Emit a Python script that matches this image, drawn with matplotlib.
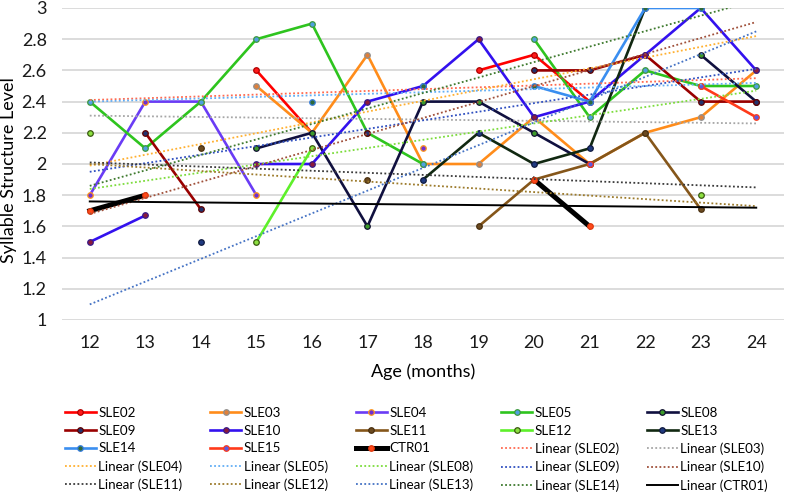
import numpy as np
import matplotlib.pyplot as plt

plt.rcParams['font.family'] = ['Lato', 'DejaVu Sans']

nan = np.nan

# Idade em meses (categorias)
meses = list(range(12, 25))

# Valores por participante (nan = sem registo)
SLE02 = [nan, nan, nan, 2.6, 2.2, nan, nan, 2.6, 2.7, 2.4, nan, nan, nan]
SLE03 = [nan, nan, nan, 2.5, 2.2, 2.7, 2.0, 2.0, 2.3, 2.0, 2.2, 2.3, 2.6]
SLE04 = [1.8, 2.4, 2.4, 1.8, nan, nan, 2.1, nan, nan, nan, nan, nan, nan]
SLE05 = [2.4, 2.1, 2.4, 2.8, 2.9, 2.2, 2.0, nan, 2.8, 2.3, 2.6, 2.5, 2.5]
SLE08 = [nan, nan, nan, 2.1, 2.2, 1.6, 2.4, 2.4, 2.2, 2.0, nan, 2.7, 2.4]
SLE09 = [nan, 2.2, 1.71, nan, nan, 2.2, nan, nan, 2.6, 2.6, 2.7, 2.4, 2.4]
SLE10 = [1.5, 1.67, nan, 2.0, 2.0, 2.4, 2.5, 2.8, 2.3, 2.4, 2.7, 3.0, 2.6]
SLE11 = [nan, nan, 2.1, nan, nan, 1.9, nan, 1.6, 1.9, 2.0, 2.2, 1.71, nan]
SLE12 = [2.2, nan, nan, 1.5, 2.1, nan, nan, nan, nan, nan, nan, 1.8, nan]
SLE13 = [nan, nan, 1.5, nan, nan, nan, 1.9, 2.2, 2.0, 2.1, 3.0, nan, nan]
SLE14 = [nan, nan, nan, nan, 2.4, nan, 2.5, nan, 2.5, 2.4, 3.0, 3.0, nan]
SLE15 = [nan, nan, nan, nan, nan, nan, nan, nan, nan, 2.0, nan, 2.5, 2.3]
CTR01 = [1.7, 1.8, nan, nan, nan, nan, nan, nan, 1.9, 1.6, nan, nan, nan]

series = [('SLE02', SLE02), ('SLE03', SLE03), ('SLE04', SLE04), ('SLE05', SLE05),
          ('SLE08', SLE08), ('SLE09', SLE09), ('SLE10', SLE10), ('SLE11', SLE11),
          ('SLE12', SLE12), ('SLE13', SLE13), ('SLE14', SLE14), ('SLE15', SLE15),
          ('CTR01', CTR01)]

# cor da linha, cor do marcador, cor do contorno do marcador
cores_linha = ['#FF0000', '#FF8C1A', '#6A3CF5', '#2EC41E', '#10103F', '#990000',
               '#3311EE', '#85561A', '#5EF02A', '#112811', '#3A8EF0', '#FF3A1A', '#000000']
cores_marc = ['#FF1A1A', '#E0803A', '#7030D0', '#4FA0E0', '#3C9A2A', '#22336E',
              '#8B1A3A', '#6B4A20', '#8CE040', '#203A80', '#2E6A3A', '#5A5AE0', '#FF4A1A']
cores_borda = ['#B00000', '#909090', '#FF9A20', '#3C9A3C', '#101030', '#600000',
               '#3A1A8A', '#4A3010', '#3A5A10', '#101A40', '#3A80E0', '#FF3A1A', '#E03A10']

# Linhas de tendencia (valor lido aos 12 e aos 24 meses)
tend_nomes = ['SLE02', 'SLE03', 'SLE04', 'SLE05', 'SLE08', 'SLE09', 'SLE10',
              'SLE11', 'SLE12', 'SLE13', 'SLE14', 'CTR01']
tend_12 = [2.41, 2.31, 1.99, 2.40, 1.84, 1.95, 1.68, 2.01, 2.00, 1.10, 1.86, 1.76]
tend_24 = [2.55, 2.26, 2.82, 2.52, 2.47, 2.61, 2.91, 1.85, 1.73, 2.85, 3.05, 1.72]
tend_cores = ['#FF6A50', '#A6A6A6', '#FFB030', '#62AEF5', '#7CDC3C', '#2F4FC0',
              '#A0503A', '#3A3A3A', '#9C7A2A', '#4472C4', '#3E7A2E', '#000000']

yticks = [1, 1.2, 1.4, 1.6, 1.8, 2, 2.2, 2.4, 2.6, 2.8, 3]
ytick_labels = ['1', '1.2', '1.4', '1.6', '1.8', '2', '2.2', '2.4', '2.6', '2.8', '3']

fig = plt.figure(figsize=(7.87, 4.93), dpi=100)
ax = fig.add_axes([62 / 787, 1 - 320 / 493, 722 / 787, 312 / 493])

handles = []
labels = []
for i, (nome, vals) in enumerate(series):
    lw = 3.6 if nome == 'CTR01' else 1.9
    h, = ax.plot(meses, vals, color=cores_linha[i], lw=lw, marker='o', markersize=4,
                 markerfacecolor=cores_marc[i], markeredgecolor=cores_borda[i],
                 markeredgewidth=0.9, zorder=3 + i * 0.01)
    handles.append(h)
    labels.append(nome)

for i, nome in enumerate(tend_nomes):
    if nome == 'CTR01':
        ls = '-'
        lw = 1.4
    else:
        ls = (0, (1, 1.3))
        lw = 1.3
    h, = ax.plot([meses[0], meses[-1]], [tend_12[i], tend_24[i]], color=tend_cores[i],
                 lw=lw, linestyle=ls, zorder=4)
    handles.append(h)
    labels.append('Linear (' + nome + ')')

ax.set_xlim(11.5, 24.5)
ax.set_ylim(1, 3)
ax.set_xticks(meses)
ax.set_yticks(yticks)
ax.set_yticklabels(ytick_labels)
ax.grid(axis='y', color='#D9D9D9', lw=1.3)
ax.set_axisbelow(True)
for s in ax.spines.values():
    s.set_visible(False)
ax.tick_params(length=0, labelsize=13, colors='#1a1a1a')
ax.tick_params(axis='y', pad=11)
ax.tick_params(axis='x', pad=11)
ax.set_ylabel('Syllable Structure Level', fontsize=13, labelpad=3)
ax.yaxis.label.set_y(0.482)
ax.set_xlabel('Age (months)', fontsize=13, labelpad=9)

# legenda por linhas (ordem do Excel)
ncol = 5
nrow = 5
ordem = [r * ncol + c for c in range(ncol) for r in range(nrow) if r * ncol + c < len(handles)]
fig.legend([handles[k] for k in ordem], [labels[k] for k in ordem], ncol=ncol,
           loc='upper left', bbox_to_anchor=(65 / 787, 1 - 407 / 493), frameon=False,
           fontsize=9.6, handlelength=2.3, handletextpad=0.2, columnspacing=2.1,
           labelspacing=0.43, borderpad=0, borderaxespad=0, numpoints=1)

fig.savefig('out.png', dpi=100)
